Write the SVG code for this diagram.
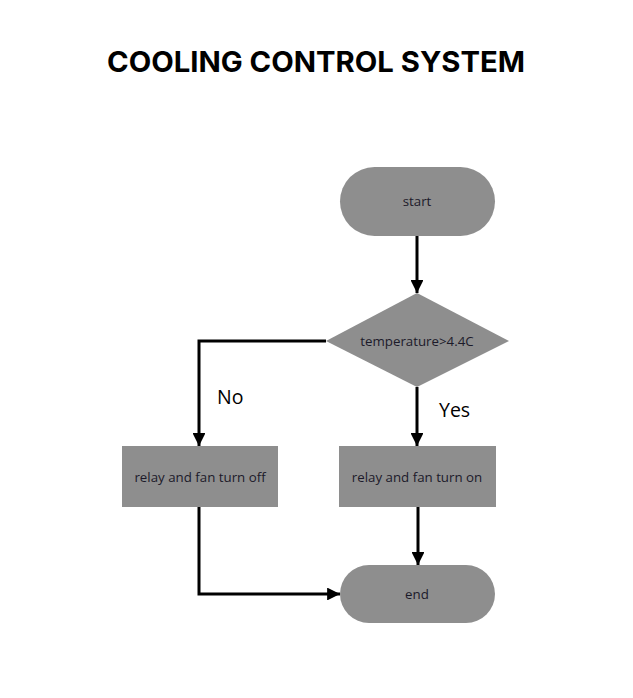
<svg xmlns="http://www.w3.org/2000/svg" width="633" height="698" viewBox="0 0 633 698">
<defs>
<style>
.node{fill:#8e8e8e;}
.lbl{font-family:"Open Sans","Liberation Sans",sans-serif;font-size:13.3px;fill:#1c1a2a;text-anchor:middle;dominant-baseline:central;}
.edge{fill:none;stroke:#000;stroke-width:3;}
.elbl{font-family:"Open Sans","Liberation Sans",sans-serif;font-size:19.5px;fill:#000;}
</style>
<marker id="arr" viewBox="0 0 10 10" refX="10" refY="5" markerWidth="4.3" markerHeight="4.3" markerUnits="strokeWidth" orient="auto">
<path d="M0,0 L10,5 L0,10 z" fill="#000"/>
</marker>
</defs>
<rect width="633" height="698" fill="#fff"/>
<text x="316" y="72" font-family="Inter,'Open Sans','Liberation Sans',sans-serif" font-size="29" font-weight="bold" text-anchor="middle" textLength="418" lengthAdjust="spacingAndGlyphs" fill="#000">COOLING CONTROL SYSTEM</text>
<g id="connectors">
<path class="edge" d="M417,236 L417,293" marker-end="url(#arr)"/>
<path class="edge" d="M326,341 L199,341 L199,446" marker-end="url(#arr)"/>
<path class="edge" d="M417,387 L417,446" marker-end="url(#arr)"/>
<path class="edge" d="M418,507 L418,565" marker-end="url(#arr)"/>
<path class="edge" d="M199,507 L199,594 L340,594" marker-end="url(#arr)"/>
<text class="elbl" x="217" y="404">No</text>
<text class="elbl" x="439" y="417">Yes</text>
</g>
<g id="start">
<rect class="node" x="340" y="167" width="155" height="69" rx="34.5"/>
<text class="lbl" x="417" y="201">start</text>
</g>
<g id="decision">
<polygon class="node" points="417,293 509,341 417,387 326,341"/>
<text class="lbl" x="417" y="341">temperature&gt;4.4C</text>
</g>
<g id="off">
<rect class="node" x="122" y="446" width="156" height="61"/>
<text class="lbl" x="200" y="477">relay and fan turn off</text>
</g>
<g id="on">
<rect class="node" x="339" y="446" width="157" height="61"/>
<text class="lbl" x="417" y="477">relay and fan turn on</text>
</g>
<g id="end">
<rect class="node" x="340" y="565" width="155" height="58" rx="29"/>
<text class="lbl" x="417" y="594">end</text>
</g>
</svg>
